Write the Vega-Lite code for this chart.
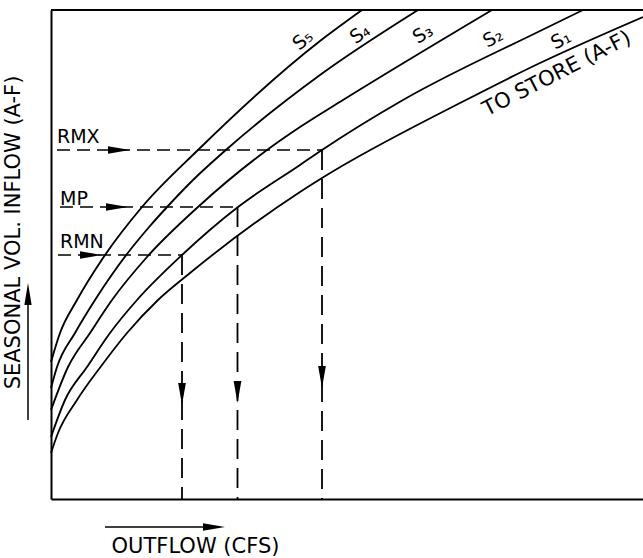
{
  "$schema": "https://vega.github.io/schema/vega-lite/v6.json",
  "width": 592,
  "height": 489,
  "autosize": {"type": "none"},
  "padding": {"left": 51, "top": 10, "right": 0, "bottom": 59},
  "background": "white",
  "config": {"view": {"stroke": null}, "font": "DejaVu Sans"},
  "datasets": {
    "curves": [
      {"curve": "S5", "x": 0, "y": 137}, {"curve": "S5", "x": 9, "y": 166}, {"curve": "S5", "x": 26, "y": 199}, {"curve": "S5", "x": 52, "y": 241}, {"curve": "S5", "x": 91, "y": 292}, {"curve": "S5", "x": 147, "y": 349}, {"curve": "S5", "x": 269, "y": 458}, {"curve": "S5", "x": 311, "y": 489},
      {"curve": "S4", "x": 0, "y": 111}, {"curve": "S4", "x": 6, "y": 132}, {"curve": "S4", "x": 24, "y": 166}, {"curve": "S4", "x": 44, "y": 199}, {"curve": "S4", "x": 76, "y": 245}, {"curve": "S4", "x": 99, "y": 273}, {"curve": "S4", "x": 117, "y": 293}, {"curve": "S4", "x": 139, "y": 316}, {"curve": "S4", "x": 176, "y": 350}, {"curve": "S4", "x": 269, "y": 424}, {"curve": "S4", "x": 367, "y": 489},
      {"curve": "S3", "x": 0, "y": 89}, {"curve": "S3", "x": 17, "y": 132}, {"curve": "S3", "x": 39, "y": 166}, {"curve": "S3", "x": 61, "y": 199}, {"curve": "S3", "x": 96, "y": 242}, {"curve": "S3", "x": 147, "y": 292}, {"curve": "S3", "x": 216, "y": 349}, {"curve": "S3", "x": 249, "y": 372}, {"curve": "S3", "x": 292, "y": 399}, {"curve": "S3", "x": 441, "y": 489},
      {"curve": "S2", "x": 0, "y": 62}, {"curve": "S2", "x": 14, "y": 99}, {"curve": "S2", "x": 36, "y": 132}, {"curve": "S2", "x": 59, "y": 166}, {"curve": "S2", "x": 86, "y": 199}, {"curve": "S2", "x": 131, "y": 244}, {"curve": "S2", "x": 187, "y": 292}, {"curve": "S2", "x": 249, "y": 334}, {"curve": "S2", "x": 271, "y": 349}, {"curve": "S2", "x": 352, "y": 399}, {"curve": "S2", "x": 489, "y": 468}, {"curve": "S2", "x": 532, "y": 489},
      {"curve": "S1", "x": 0, "y": 46}, {"curve": "S1", "x": 7, "y": 66}, {"curve": "S1", "x": 26, "y": 99}, {"curve": "S1", "x": 51, "y": 134}, {"curve": "S1", "x": 76, "y": 166}, {"curve": "S1", "x": 107, "y": 199}, {"curve": "S1", "x": 139, "y": 226}, {"curve": "S1", "x": 249, "y": 307}, {"curve": "S1", "x": 271, "y": 321}, {"curve": "S1", "x": 409, "y": 396}, {"curve": "S1", "x": 489, "y": 436}, {"curve": "S1", "x": 592, "y": 482}
    ],
    "dashH": [
      {"level": "RMX", "x": 6, "x2": 271, "y": 349},
      {"level": "MP", "x": 9, "x2": 187, "y": 292},
      {"level": "RMN", "x": 7, "x2": 131, "y": 244}
    ],
    "dashV": [
      {"level": "RMX", "x": 271, "y": 349, "y2": 0},
      {"level": "MP", "x": 186.5, "y": 292, "y2": 0},
      {"level": "RMN", "x": 131, "y": 244, "y2": 0}
    ],
    "shafts": [
      {"name": "inflow", "x": -23, "x2": -23, "y": 79, "y2": 210},
      {"name": "outflow", "x": 54, "x2": 168, "y": -28, "y2": -28}
    ],
    "frame": [{"x": 0, "x2": 592, "y": 489}],
    "arrows": [
      {"dir": "right", "x": 79, "y": 349},
      {"dir": "right", "x": 77, "y": 292},
      {"dir": "right", "x": 51, "y": 244},
      {"dir": "down", "x": 271, "y": 111},
      {"dir": "down", "x": 186.5, "y": 96},
      {"dir": "down", "x": 131, "y": 94},
      {"dir": "up", "x": -23, "y": 216},
      {"dir": "right", "x": 174, "y": -28}
    ],
    "levelLabels": [
      {"text": "RMX", "x": 6, "y": 356},
      {"text": "MP", "x": 9, "y": 294},
      {"text": "RMN", "x": 9, "y": 251}
    ],
    "curveLabels": [
      {"text": "S₅", "x": 252, "y": 459, "angle": -40, "size": 19},
      {"text": "S₄", "x": 309, "y": 465, "angle": -35, "size": 19},
      {"text": "S₃", "x": 372, "y": 465, "angle": -32, "size": 19},
      {"text": "S₂", "x": 442, "y": 461, "angle": -28, "size": 19},
      {"text": "S₁", "x": 510, "y": 459, "angle": -27, "size": 19},
      {"text": "TO STORE (A-F)", "x": 506, "y": 425, "angle": -27, "size": 21}
    ]
  },
  "layer": [
    {
      "data": {"name": "curves"},
      "mark": {"type": "line", "interpolate": "monotone", "color": "black"},
      "encoding": {
        "x": {
          "field": "x", "type": "quantitative",
          "scale": {"domain": [0, 592], "nice": false, "zero": false},
          "axis": {
            "title": "OUTFLOW (CFS)", "labels": false, "ticks": false, "grid": false,
            "domainColor": "black", "domainWidth": 2,
            "titleFontSize": 21, "titleFontWeight": "normal", "titleColor": "black", "titleFont": "DejaVu Sans",
            "titleX": 144, "titleY": 53, "titleBaseline": "alphabetic", "titleAlign": "center"
          }
        },
        "y": {
          "field": "y", "type": "quantitative",
          "scale": {"domain": [0, 489], "nice": false, "zero": false},
          "axis": {
            "title": "SEASONAL VOL. INFLOW (A-F)", "labels": false, "ticks": false, "grid": false,
            "domainColor": "black", "domainWidth": 2,
            "titleFontSize": 21, "titleFontWeight": "normal", "titleColor": "black", "titleFont": "DejaVu Sans",
            "titleAngle": 270, "titleX": -32, "titleY": 222, "titleBaseline": "alphabetic", "titleAlign": "center"
          }
        },
        "detail": {"field": "curve"},
        "strokeWidth": {
          "field": "curve", "type": "nominal",
          "scale": {"domain": ["S1", "S2", "S3", "S4", "S5"], "range": [1.8, 1.9, 2.6, 2, 1.5]},
          "legend": null
        }
      }
    },
    {
      "data": {"name": "frame"},
      "mark": {"type": "rule", "color": "black", "strokeWidth": 2},
      "encoding": {
        "x": {"field": "x", "type": "quantitative"},
        "x2": {"field": "x2"},
        "y": {"field": "y", "type": "quantitative"}
      }
    },
    {
      "data": {"name": "dashH"},
      "mark": {"type": "rule", "color": "black", "strokeWidth": 1.6, "strokeDash": [13, 7]},
      "encoding": {
        "x": {"field": "x", "type": "quantitative"},
        "x2": {"field": "x2"},
        "y": {"field": "y", "type": "quantitative"}
      }
    },
    {
      "data": {"name": "dashV"},
      "mark": {"type": "rule", "color": "black", "strokeWidth": 1.8, "strokeDash": [20, 9]},
      "encoding": {
        "x": {"field": "x", "type": "quantitative"},
        "y": {"field": "y", "type": "quantitative"},
        "y2": {"field": "y2"}
      }
    },
    {
      "data": {"name": "shafts"},
      "mark": {"type": "rule", "color": "black", "strokeWidth": 1.5},
      "encoding": {
        "x": {"field": "x", "type": "quantitative"},
        "x2": {"field": "x2"},
        "y": {"field": "y", "type": "quantitative"},
        "y2": {"field": "y2"}
      }
    },
    {
      "data": {"name": "arrows"},
      "mark": {"type": "point", "filled": true, "color": "black", "opacity": 1, "size": 484, "strokeWidth": 0},
      "encoding": {
        "x": {"field": "x", "type": "quantitative"},
        "y": {"field": "y", "type": "quantitative"},
        "shape": {
          "field": "dir", "type": "nominal",
          "scale": {"domain": ["right", "down", "up"], "range": ["M0,0L-2,-0.33L-2,0.33Z", "M0,0L-0.35,-2L0.35,-2Z", "M0,0L-0.33,2L0.33,2Z"]},
          "legend": null
        }
      }
    },
    {
      "data": {"name": "levelLabels"},
      "mark": {"type": "text", "align": "left", "baseline": "alphabetic", "fontSize": 19, "color": "black", "font": "DejaVu Sans"},
      "encoding": {
        "x": {"field": "x", "type": "quantitative"},
        "y": {"field": "y", "type": "quantitative"},
        "text": {"field": "text"}
      }
    },
    {
      "data": {"name": "curveLabels"},
      "mark": {"type": "text", "align": "center", "baseline": "middle", "color": "black", "font": "DejaVu Sans"},
      "encoding": {
        "x": {"field": "x", "type": "quantitative"},
        "y": {"field": "y", "type": "quantitative"},
        "text": {"field": "text"},
        "size": {"field": "size", "type": "quantitative", "scale": null},
        "angle": {"field": "angle", "type": "quantitative", "scale": null}
      }
    }
  ]
}
